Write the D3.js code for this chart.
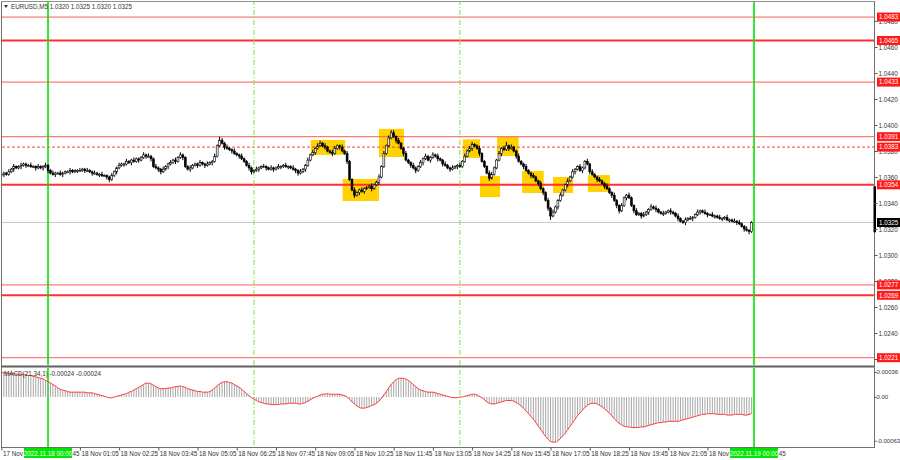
<!DOCTYPE html>
<html><head><meta charset="utf-8">
<script src="https://cdn.jsdelivr.net/npm/d3@7"></script>
<style>body{margin:0;background:#fff} svg{display:block} text{font-family:'Liberation Sans',Arial,sans-serif}</style>
</head><body><svg id="c" width="900" height="460"></svg>
<script>
// ---------------- DATA ----------------
const symbolTitle = "EURUSD,M5";
const ohlcTitle = ["1.0320", "1.0325", "1.0320", "1.0325"];
const macdTitle = "MACD(21,34,1) -0.00024 -0.00024";
const firstBarTime = "17 Nov 22:25";      // first visible M5 bar
const pipBase = 1.0300;                    // closes are pips above this
const firstOpen = 62;
const closes = [
62,63,62,64,66,68,67,68,69,70, 69,69,68,68,67,68,67,68,69,65,
63,62,63,63,62,63,64,64,65,64, 65,65,65,66,65,65,64,63,63,62,
62,61,61,60,58,61,64,67,69,70, 70,72,71,73,72,74,73,75,77,76,
76,74,68,67,66,64,66,68,70,71, 73,72,75,77,75,68,66,67,69,70,
69,71,70,69,70,71,72,76,84,88, 86,83,82,81,80,78,77,76,74,72,
69,67,64,65,66,67,68,68,67,66, 67,66,67,68,68,69,68,68,67,66,
65,63,64,66,69,73,77,79,82,84, 86,84,83,80,79,78,82,84,83,80,
78,72,58,50,46,48,50,49,51,52, 53,51,54,56,60,68,78,84,90,94,
91,88,86,82,78,73,71,69,67,65, 68,71,74,76,73,75,77,76,74,73,
70,69,67,66,67,68,69,68,72,76, 80,82,85,84,82,78,72,68,63,59,
62,67,73,78,82,81,84,82,83,80, 76,72,70,68,65,63,61,60,57,55,
51,48,42,36,30,33,37,42,46,50, 54,57,60,64,66,68,65,67,72,70,
64,62,60,58,57,55,53,51,48,46, 42,38,34,38,44,46,44,38,34,31,
32,30,31,33,35,37,36,35,33,32, 32,33,34,33,32,30,28,26,25,27,
28,28,29,31,33,34,33,32,31,31, 30,30,29,28,28,29,27,27,26,26,
25,24,22,20,19,18,25];
const upWicks = [
2,1,1,2,1,2,1,1,2,1, 1,1,2,1,1,2,1,1,2,1,
1,2,1,1,2,1,1,1,2,1, 1,1,2,1,1,2,1,1,2,1,
1,2,1,1,1,2,1,1,2,1, 1,2,1,1,2,1,1,1,2,1,
2,1,1,2,1,1,2,1,1,2, 1,2,1,2,1,1,1,2,1,1,
1,2,1,1,2,1,1,2,1,3, 2,1,2,1,1,2,1,1,2,1,
1,2,1,1,2,1,1,2,1,1, 2,1,1,2,1,1,2,1,1,2,
1,1,2,1,1,2,1,2,1,2, 2,1,2,1,1,2,2,1,1,2,
1,2,1,1,2,1,1,2,1,1, 1,2,1,1,2,1,2,1,2,2,
2,1,2,1,1,2,1,1,2,1, 1,2,1,2,1,1,2,1,2,1,
1,2,1,1,2,1,1,2,1,2, 1,2,2,1,1,2,1,1,1,2,
2,1,1,2,1,2,3,1,2,1, 1,2,1,1,2,1,1,2,1,1,
2,1,1,2,1,2,1,1,2,1, 1,2,1,2,1,1,2,1,1,2,
1,2,1,1,2,1,1,2,1,1, 2,1,1,2,1,1,2,1,1,2,
1,1,2,1,1,2,1,2,1,1, 2,1,1,2,1,1,2,1,1,2,
1,2,1,1,2,1,1,2,1,1, 2,1,1,2,1,1,2,1,1,2,
1,2,1,1,2,1,1];
const downWicks = [
1,2,1,1,1,2,1,1,2,1, 2,1,1,1,2,1,1,2,1,2,
1,1,2,1,1,2,1,1,2,1, 1,2,1,1,2,1,1,2,1,1,
2,1,1,2,2,1,1,2,1,1, 2,1,1,2,1,1,2,1,1,2,
1,2,1,1,2,2,1,1,2,1, 1,2,1,1,2,1,1,2,1,1,
2,1,1,2,1,1,2,1,1,1, 1,2,1,1,2,1,1,2,1,1,
1,2,2,1,1,2,1,1,2,1, 1,2,1,1,2,1,1,2,1,1,
2,2,1,1,2,1,1,1,2,1, 1,1,2,1,1,2,1,1,2,1,
1,2,1,1,2,1,2,1,2,1, 1,2,1,1,2,1,1,1,1,1,
1,2,1,1,2,1,1,2,1,2, 1,1,2,1,1,2,1,1,2,1,
2,1,1,2,1,1,2,1,1,1, 1,1,2,1,1,2,1,1,1,2,
1,1,1,1,2,1,1,2,1,1, 2,1,1,2,1,1,2,1,1,2,
1,2,1,2,3,1,1,2,1,1, 1,2,1,1,2,1,1,2,1,1,
2,1,1,2,1,1,2,1,1,2, 1,2,2,1,1,2,1,1,2,1,
1,2,1,1,2,1,1,2,1,1, 2,1,1,2,1,1,2,1,1,2,
1,1,2,1,1,2,1,1,2,1, 1,2,1,1,2,1,1,2,1,1,
2,1,1,2,1,2,1];
// MACD main line, in units of 0.00001
const macdValues = [
35,35,35,34,34,34,33,33,33,32, 32,31,31,30,29,28,27,26,24,22,
20,18,16,13,11,10,9,8,7,7, 7,7,7,7,7,6,6,6,5,4,
3,2,1,0,-1,-1,0,1,2,3, 4,5,7,8,10,12,14,16,18,20,
20,19,17,15,13,12,12,12,13,13, 14,15,15,16,15,14,12,11,10,9,
8,8,7,7,7,8,10,13,16,19, 21,22,22,21,20,18,16,14,11,8,
5,2,-1,-3,-5,-7,-8,-9,-10,-10, -11,-11,-11,-11,-10,-10,-10,-9,-9,-9,
-9,-10,-10,-9,-8,-6,-4,-2,0,1, 3,4,4,5,4,4,4,4,4,3,
2,0,-3,-7,-10,-13,-15,-16,-16,-15, -14,-12,-11,-9,-6,-2,3,8,13,18,
22,25,27,27,27,26,24,21,18,15, 12,10,9,8,7,7,7,6,5,4,
3,2,1,0,-1,-1,-1,0,0,1, 2,3,4,4,3,1,-1,-4,-7,-9,
-10,-10,-9,-8,-7,-6,-5,-5,-5,-6, -8,-10,-13,-16,-20,-24,-28,-32,-37,-42,
-47,-52,-57,-61,-64,-65,-65,-63,-60,-56, -52,-47,-42,-37,-32,-27,-23,-19,-15,-12,
-10,-9,-9,-10,-12,-14,-17,-20,-23,-27, -31,-35,-38,-40,-42,-43,-43,-44,-44,-44,
-44,-43,-43,-42,-41,-40,-39,-38,-37,-37, -36,-36,-35,-35,-35,-35,-35,-34,-33,-32,
-31,-30,-29,-28,-27,-26,-25,-25,-24,-24, -24,-24,-25,-25,-25,-25,-26,-26,-26,-25,
-25,-25,-25,-26,-26,-25,-24];

const priceTicks = [1.0220,1.0240,1.0260,1.0280,1.0300,1.0320,1.0340,1.0360,1.0380,1.0400,1.0420,1.0440,1.0460,1.0480];
const macdTicks = [0.00036, 0, -0.00063];
const macdTickLabels = ["0.00036", "0.00", "-0.00063"];
const majorLevels = [1.0465, 1.0354, 1.0269];
const minorLevels = [1.0483, 1.0433, 1.0391, 1.0277, 1.0221];
const dashedLevels = [1.0383];
const currentPrice = 1.0325;
const dayRange = [1.03175, 1.03528];
const timeLabels = ["17 Nov 22:25","17 Nov 23:45","18 Nov 01:05","18 Nov 02:25","18 Nov 03:45","18 Nov 05:05",
  "18 Nov 06:25","18 Nov 07:45","18 Nov 09:05","18 Nov 10:25","18 Nov 11:45","18 Nov 13:05","18 Nov 14:25",
  "18 Nov 15:45","18 Nov 17:05","18 Nov 18:25","18 Nov 19:45","18 Nov 21:05","18 Nov 22:25","18 Nov 23:45"];
const dayLines = ["18 Nov 00:00", "19 Nov 00:00"];
const dayLineLabels = ["2022.11.18 00:00", "2022.11.19 00:00"];
const sessionLines = ["18 Nov 07:00", "18 Nov 14:00"];
const zoneFrom = ["08:56","10:01","11:15","14:06","14:41","15:16","16:07","17:10","18:21"];
const zoneTo   = ["10:06","11:15","12:06","14:41","15:22","16:00","16:51","17:51","19:06"];
const zoneHigh = [1.03885,1.03585,1.0397,1.0389,1.03608,1.03908,1.03646,1.0360,1.03615];
const zoneLow  = [1.0377,1.03415,1.03754,1.03746,1.03446,1.03762,1.03477,1.03477,1.03485];

// ---------------- HELPERS ----------------
function toMinutes(s) { // "18 Nov 07:45" or "07:45" (18 Nov) -> minutes from 18 Nov 00:00
  const p = s.split(" ");
  const day = p.length > 1 ? +p[0] : 18;
  const hm = p[p.length - 1].split(":");
  return (day - 18) * 1440 + (+hm[0]) * 60 + (+hm[1]);
}
const fmt4 = d3.format(".4f");

// ---------------- LAYOUT ----------------
const svg = d3.select("#c");
const L = 2, R = 874, mainTop = 2, mainBot = 365, macdTop = 368, macdBot = 447;

const x = d3.scaleLinear().domain([-93.85, 1684.7]).range([L, R]);
const y = d3.scaleLinear().domain([1.02154, 1.04946]).range([mainBot, mainTop]);
const ym = d3.scaleLinear().domain([-0.00072, 0.000418]).range([macdBot, macdTop]);

const t0 = toMinutes(firstBarTime);
const bars = closes.map((c, i) => {
  const o = i === 0 ? firstOpen : closes[i - 1];
  const hi = Math.max(o, c) + upWicks[i], lo = Math.min(o, c) - downWicks[i];
  return { t: t0 + 5 * i, o: pipBase + o / 10000, c: pipBase + c / 10000,
           h: pipBase + hi / 10000, l: pipBase + lo / 10000, m: macdValues[i] / 100000 };
});

const defs = svg.append("defs");
defs.append("clipPath").attr("id", "mainClip").append("rect").attr("x", L).attr("y", mainTop).attr("width", R - L).attr("height", mainBot - mainTop);
defs.append("clipPath").attr("id", "macdClip").append("rect").attr("x", L).attr("y", macdTop).attr("width", R - L).attr("height", macdBot - macdTop);

svg.append("rect").attr("x", 0).attr("y", 0).attr("width", 900).attr("height", 460).attr("fill", "#fff");
const main = svg.append("g").attr("clip-path", "url(#mainClip)");
const mac = svg.append("g").attr("clip-path", "url(#macdClip)");

// zones
main.selectAll("rect.zone").data(zoneFrom).join("rect").attr("class", "zone")
  .attr("x", (d) => x(toMinutes(d)))
  .attr("width", (d, i) => x(toMinutes(zoneTo[i])) - x(toMinutes(d)))
  .attr("y", (d, i) => y(zoneHigh[i]))
  .attr("height", (d, i) => y(zoneLow[i]) - y(zoneHigh[i]))
  .attr("fill", "#FFD200");

// current price line
main.append("line").attr("x1", L).attr("x2", R).attr("y1", y(currentPrice)).attr("y2", y(currentPrice))
  .attr("stroke", "#c8c8c8").attr("stroke-width", 1);

// levels
main.selectAll("line.minor").data(minorLevels).join("line")
  .attr("x1", L).attr("x2", R).attr("y1", d => y(d)).attr("y2", d => y(d))
  .attr("stroke", "#ff5a5a").attr("stroke-width", 1);
main.selectAll("line.major").data(majorLevels).join("line")
  .attr("x1", L).attr("x2", R).attr("y1", d => y(d)).attr("y2", d => y(d))
  .attr("stroke", "#ff3030").attr("stroke-width", 2);
main.selectAll("line.dash").data(dashedLevels).join("line")
  .attr("x1", L).attr("x2", R).attr("y1", d => y(d)).attr("y2", d => y(d))
  .attr("stroke", "#ff4040").attr("stroke-width", 1).attr("stroke-dasharray", "3,2");

// vertical lines (both panels)
[main, mac].forEach(g => {
  g.selectAll("line.day").data(dayLines).join("line")
    .attr("x1", d => x(toMinutes(d))).attr("x2", d => x(toMinutes(d)))
    .attr("y1", 0).attr("y2", 460).attr("stroke", "#00e600").attr("stroke-width", 1.6);
  g.selectAll("line.sess").data(sessionLines).join("line")
    .attr("x1", d => x(toMinutes(d))).attr("x2", d => x(toMinutes(d)))
    .attr("y1", 0).attr("y2", 460).attr("stroke", "#7ee03a").attr("stroke-width", 1)
    .attr("stroke-dasharray", "5,2,1,2");
});

// candles
const bw = 1.9;
const cg = main.append("g");
cg.selectAll("line.wick").data(bars).join("line")
  .attr("x1", d => x(d.t)).attr("x2", d => x(d.t))
  .attr("y1", d => y(d.h)).attr("y2", d => y(d.l))
  .attr("stroke", "#000").attr("stroke-width", 1);
cg.selectAll("rect.body").data(bars).join("rect")
  .attr("x", d => x(d.t) - bw / 2).attr("width", bw)
  .attr("y", d => y(Math.max(d.o, d.c)))
  .attr("height", d => Math.max(1, Math.abs(y(d.o) - y(d.c))))
  .attr("fill", d => d.c >= d.o ? "#fff" : "#000")
  .attr("stroke", "#000").attr("stroke-width", 0.6);

// MACD histogram + signal line
mac.selectAll("line.hist").data(bars).join("line")
  .attr("x1", d => x(d.t)).attr("x2", d => x(d.t))
  .attr("y1", ym(0)).attr("y2", d => ym(d.m))
  .attr("stroke", "#a8a8a8").attr("stroke-width", 1);
mac.append("path").datum(bars)
  .attr("d", d3.line().x(d => x(d.t)).y(d => ym(d.m)).curve(d3.curveMonotoneX))
  .attr("fill", "none").attr("stroke", "#ff3a3a").attr("stroke-width", 1);

// panel borders
svg.append("line").attr("x1", 1.5).attr("x2", 1.5).attr("y1", 1).attr("y2", 448).attr("stroke", "#707070").attr("stroke-width", 1);
svg.append("line").attr("x1", 1).attr("x2", R).attr("y1", 1.5).attr("y2", 1.5).attr("stroke", "#909090").attr("stroke-width", 1);
svg.append("rect").attr("x", 1).attr("y", 365.5).attr("width", R - 1).attr("height", 2).attr("fill", "#606060");
svg.append("line").attr("x1", R + 0.5).attr("x2", R + 0.5).attr("y1", 1).attr("y2", 448).attr("stroke", "#707070");
svg.append("line").attr("x1", 1).attr("x2", R + 1).attr("y1", macdBot + 0.5).attr("y2", macdBot + 0.5).attr("stroke", "#707070");
svg.append("rect").attr("x", R - 0.5).attr("width", 2.5).attr("y", y(dayRange[1])).attr("height", y(dayRange[0]) - y(dayRange[1])).attr("fill", "#000");

// right price axis
const fs = "6.3px";
const pa = svg.append("g").attr("transform", `translate(${R + 0.5},0)`)
  .call(d3.axisRight(y).tickValues(priceTicks).tickSize(3).tickFormat(fmt4));
pa.select(".domain").remove();
pa.selectAll("line").attr("stroke", "#555");
pa.selectAll("text").attr("x", 4).attr("fill", "#333").style("font-size", fs).style("font-family", "'Liberation Sans',Arial");

// level labels
const allLevels = minorLevels.concat(majorLevels, dashedLevels);
const lg = svg.append("g");
lg.selectAll("rect").data(allLevels).join("rect")
  .attr("x", R + 3).attr("y", d => y(d) - 4.5).attr("width", 23).attr("height", 9).attr("fill", "#ff1a1a");
lg.selectAll("text").data(allLevels).join("text")
  .attr("x", R + 5).attr("y", d => y(d) + 2.2).attr("fill", "#fff").style("font-size", fs).text(fmt4);
lg.append("rect").attr("x", R + 3).attr("y", y(currentPrice) - 4.5).attr("width", 23).attr("height", 9).attr("fill", "#000");
lg.append("text").attr("x", R + 5).attr("y", y(currentPrice) + 2.2).attr("fill", "#fff").style("font-size", fs).text(fmt4(currentPrice));

// MACD axis
const ma = svg.append("g").attr("transform", `translate(${R + 0.5},0)`)
  .call(d3.axisRight(ym).tickValues(macdTicks).tickSize(2).tickFormat((d, i) => macdTickLabels[i]));
ma.select(".domain").remove();
ma.selectAll("line").attr("stroke", "#555");
ma.selectAll("text").attr("x", 2).attr("fill", "#333").style("font-size", "6px").style("font-family", "'Liberation Sans',Arial");

// bottom time axis
const ta = svg.append("g").attr("transform", `translate(0,${macdBot + 0.5})`)
  .call(d3.axisBottom(x).tickValues(timeLabels.map(toMinutes)).tickSize(3).tickFormat((d, i) => timeLabels[i]));
ta.select(".domain").remove();
ta.selectAll("line").attr("stroke", "#555");
ta.selectAll("text").attr("text-anchor", "start").attr("x", 1).attr("y", 4).attr("dy", "0.71em")
  .attr("fill", "#333").style("font-size", fs).style("font-family", "'Liberation Sans',Arial");

// day-line labels on the time axis
const dl = svg.append("g");
dl.selectAll("rect").data(dayLines).join("rect")
  .attr("x", d => x(toMinutes(d)) - 24).attr("y", macdBot + 1).attr("width", 48).attr("height", 10).attr("fill", "#00e600");
dl.selectAll("text").data(dayLineLabels).join("text")
  .attr("x", (d, i) => x(toMinutes(dayLines[i]))).attr("y", macdBot + 8.5).attr("text-anchor", "middle")
  .attr("fill", "#fff").style("font-size", fs).text(d => d);

// titles
svg.append("path").attr("d", "M4,5 L8,5 L6,8 Z").attr("fill", "#333");
svg.append("text").attr("x", 11).attr("y", 9).attr("fill", "#333").style("font-size", fs)
  .text(symbolTitle + "  " + ohlcTitle.join(" "));
svg.append("text").attr("x", 4).attr("y", macdTop + 7.5).attr("fill", "#333").style("font-size", fs).text(macdTitle);
</script></body></html>
